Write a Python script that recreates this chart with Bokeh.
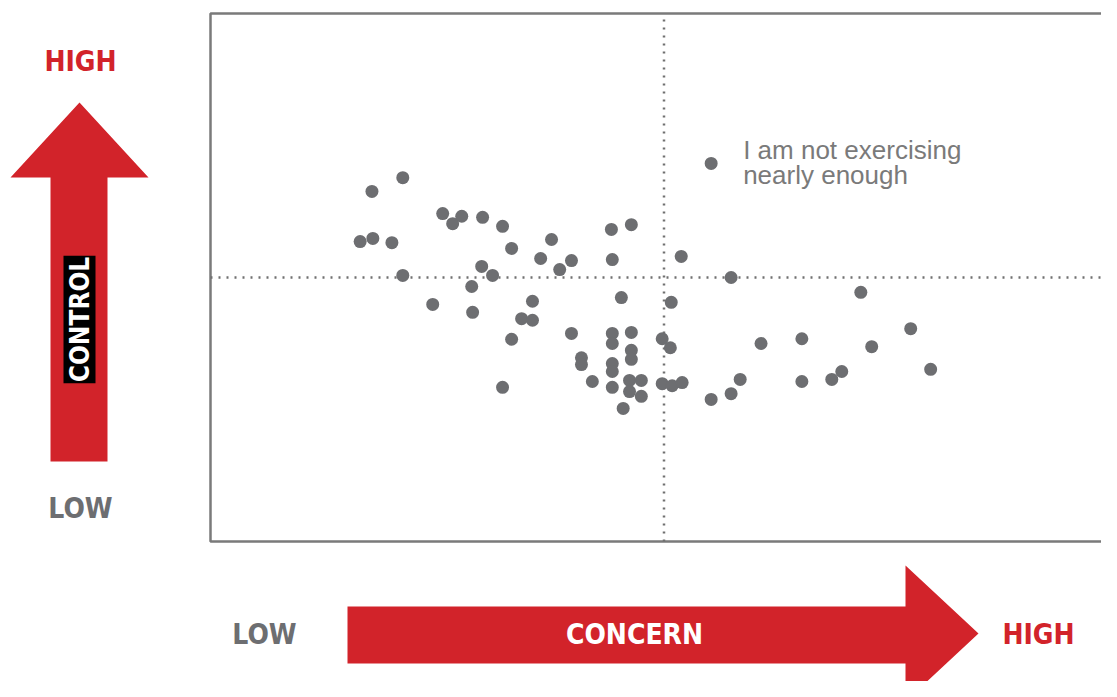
import numpy as np
from bokeh.plotting import figure
from bokeh.models import Range1d
from bokeh.core.properties import value
from bokeh.embed import file_html
from bokeh.resources import INLINE

# ---------------- data (concern = x, control = y, both 0..100, midpoint 50) -------------
concern = [17.8, 21.2, 16.5, 17.9, 20.0, 21.2, 25.6, 26.7, 27.7, 30.0,
           32.2, 33.2, 37.6, 36.4, 39.8, 38.5, 44.2, 46.4, 44.3, 51.9,
           29.9, 31.1, 28.8, 24.5, 28.9, 35.5, 34.3, 35.5, 33.2, 32.2,
           45.3, 50.8, 57.4, 39.8, 44.3, 46.4, 44.3, 49.8, 50.7, 40.9,
           40.9, 44.3, 46.4, 46.4, 44.3, 42.1, 44.3, 46.2, 47.5, 46.2,
           47.5, 45.5, 49.8, 50.9, 52.0, 55.2, 57.4, 58.4, 60.7, 65.2,
           65.2, 68.5, 69.6, 71.7, 72.9, 77.2, 79.4, 55.2]
control = [66.3, 68.9, 56.8, 57.4, 56.6, 50.4, 62.1, 60.2, 61.6, 61.4,
           59.7, 55.5, 57.2, 53.6, 53.2, 51.5, 59.1, 60.0, 53.4, 54.0,
           52.1, 50.4, 48.3, 44.9, 43.4, 45.5, 42.2, 41.9, 38.3, 29.2,
           46.2, 45.3, 50.0, 39.4, 39.4, 39.6, 37.5, 38.4, 36.7, 34.8,
           33.5, 33.7, 36.2, 34.5, 32.2, 30.3, 29.2, 30.5, 30.5, 28.4,
           27.5, 25.2, 29.9, 29.5, 30.1, 26.9, 28.0, 30.7, 37.5, 38.4,
           30.3, 30.7, 32.2, 47.2, 36.9, 40.3, 32.6, 71.6]
annotation_lines = ["I am not exercising", "nearly enough"]
annotated_index = 67
midpoint = 50

# ---------------- layout helpers (reference pixels -> data units) ----------------
W, H = 1101, 681
X0, XS = 210, 9.07   # frame left in reference px, px per unit
Y0, YS = 541, 5.28   # frame bottom in reference px, px per unit


def ux(px):
    return (px - X0) / XS


def uy(py):
    return (Y0 - py) / YS


RED = "#d2232a"
GREY = "#6d6e71"
FONT = value("DejaVu Sans Condensed, Roboto, sans-serif")

p = figure(width=W, height=H, output_backend="svg", toolbar_location=None,
           x_range=Range1d(ux(0), ux(W)), y_range=Range1d(uy(H), uy(0)),
           min_border=0, outline_line_color=None)
p.axis.visible = False
p.grid.visible = False
p.background_fill_color = "white"

# frame
p.line([ux(W), 0, 0, ux(W)], [100, 100, 0, 0], line_color="#7a7a7a", line_width=2.5)

# quadrant dotted lines
p.segment(x0=[midpoint, 0], y0=[0, midpoint], x1=[midpoint, ux(W)], y1=[100, midpoint],
          line_color="#707070", line_width=2.5, line_dash="2 6")

# points
p.scatter(concern, control, size=13, fill_color=GREY, line_color=None)

# annotation
ax, ay = concern[annotated_index], control[annotated_index]
p.text([ax + ux(743) - ux(711)] * 2, [ay + uy(150) - uy(163), ay + uy(175) - uy(163)],
       text=annotation_lines, text_font=value("Liberation Sans"), text_font_size="26px",
       text_color="#7a7a7a", text_baseline="alphabetic", text_align="left")

# vertical arrow (CONTROL)
vx = [50, 107, 107, 148, 79, 10, 50]
vy = [461, 461, 177, 177, 102, 177, 177]
p.patch([ux(v) for v in vx], [uy(v) for v in vy], fill_color=RED, line_color=None)

# horizontal arrow (CONCERN)
hx = [347, 905, 905, 978, 905, 905, 347]
hy = [606, 606, 565, 633, 701, 663, 663]
p.patch([ux(v) for v in hx], [uy(v) for v in hy], fill_color=RED, line_color=None)

# labels
p.text([ux(80), ux(264), ux(1038), ux(80)], [uy(61), uy(634), uy(634), uy(508)],
       text=["HIGH", "LOW", "HIGH", "LOW"],
       text_font=FONT, text_font_style="bold", text_font_size="28px",
       text_color=[RED, GREY, RED, GREY], text_align="center", text_baseline="middle")
p.text([ux(634)], [uy(634)], text=["CONCERN"],
       text_font=FONT, text_font_style="bold", text_font_size="28px",
       text_color="white", text_align="center", text_baseline="middle")
p.text([ux(79)], [uy(319)], text=["CONTROL"], angle=np.pi / 2,
       text_font=FONT, text_font_style="bold", text_font_size="26px",
       text_color="white", text_align="center", text_baseline="middle",
       background_fill_color="black", padding=1)

open("out.html", "w").write(file_html(p, INLINE))
